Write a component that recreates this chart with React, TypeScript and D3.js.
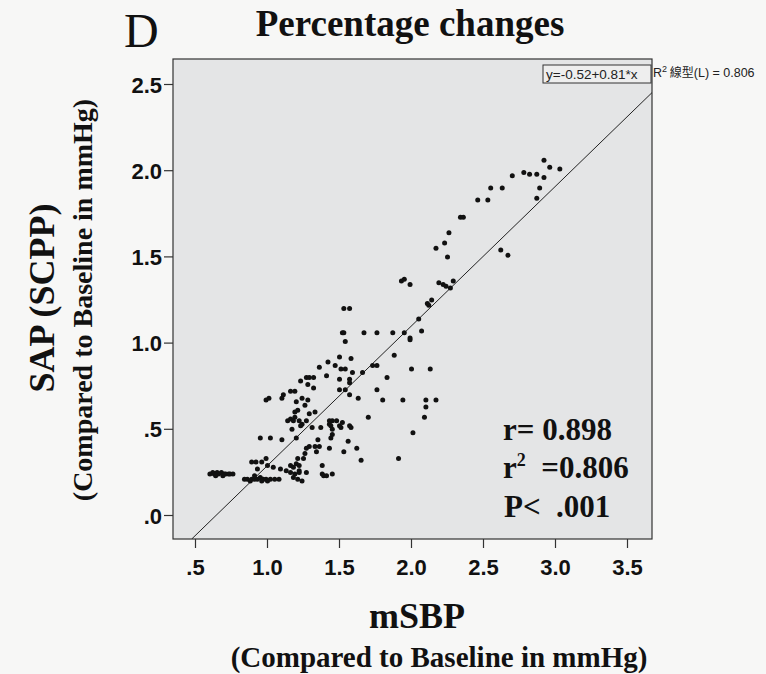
import * as d3 from 'd3';

// mSBP vs SAP (SCPP), percentage changes compared to baseline
const mSBP = [
  2.92, 2.96, 3.03, 2.78, 2.82, 2.87, 2.92, 2.7, 2.63, 2.55, 2.89, 2.87, 2.46, 2.53, 2.34, 2.36,
  2.26, 2.23, 2.17, 2.25, 2.62, 2.67, 1.93, 1.95, 1.99, 2.19, 2.22, 2.29, 2.27, 2.24, 2.14, 2.11,
  2.12, 2.05, 2.07, 1.95, 1.99, 1.99, 2.13, 2.0, 1.88, 1.87, 1.76, 1.67, 1.53, 1.57, 1.52, 1.53,
  1.54, 1.5, 1.58, 1.47, 1.51, 1.54, 1.59, 1.66, 1.73, 1.76, 1.42, 1.36, 1.41, 1.5, 1.57, 1.57,
  1.83, 1.27, 1.29, 1.32, 1.23, 1.28, 1.32, 1.5, 1.54, 1.76, 1.16, 1.19, 1.11, 1.1, 1.01, 0.99,
  1.24, 1.28, 1.57, 1.63, 1.8, 1.94, 2.1, 2.17, 2.1, 2.09, 1.7, 2.01, 1.91, 1.2, 1.21, 1.19,
  1.26, 1.29, 1.33, 1.16, 1.19, 1.14, 1.18, 1.22, 1.24, 1.27, 1.17, 1.23, 1.43, 1.45, 1.48, 1.43,
  1.44, 1.5, 1.52, 1.51, 1.57, 1.58, 1.37, 1.31, 1.45, 1.45, 1.2, 0.95, 1.02, 1.1, 1.35, 1.44,
  1.56, 1.29, 1.36, 1.33, 1.43, 1.62, 1.53, 1.34, 1.27, 1.26, 1.25, 1.21, 1.65, 1.38, 0.89, 0.92,
  0.96, 0.99, 1.0, 1.04, 0.93, 1.09, 1.13, 1.16, 1.18, 1.2, 1.22, 1.22, 1.16, 1.19, 1.22, 1.27,
  1.18, 1.21, 1.24, 1.38, 1.39, 1.45, 1.41, 0.84, 0.86, 0.89, 0.91, 0.93, 0.95, 0.97, 0.99, 1.02,
  1.05, 1.08, 0.91, 0.88, 0.96, 1.0, 0.6, 0.62, 0.63, 0.65, 0.66, 0.68, 0.7, 0.71, 0.73, 0.74,
  0.76, 0.64, 0.69,
];
const sapSCPP = [
  2.06, 2.02, 2.01, 1.99, 1.98, 1.98, 1.96, 1.97, 1.9, 1.9, 1.9, 1.84, 1.83, 1.83, 1.73, 1.73,
  1.64, 1.58, 1.55, 1.5, 1.54, 1.51, 1.36, 1.37, 1.34, 1.35, 1.34, 1.36, 1.32, 1.33, 1.25, 1.23,
  1.22, 1.14, 1.07, 1.06, 1.03, 1.02, 0.85, 0.85, 0.93, 1.06, 1.06, 1.06, 1.2, 1.2, 1.06, 1.06,
  1.01, 0.92, 0.91, 0.87, 0.85, 0.85, 0.83, 0.83, 0.87, 0.87, 0.89, 0.86, 0.81, 0.79, 0.79, 0.77,
  0.8, 0.8, 0.8, 0.8, 0.78, 0.76, 0.74, 0.73, 0.73, 0.73, 0.72, 0.72, 0.7, 0.68, 0.68, 0.67,
  0.68, 0.67, 0.7, 0.68, 0.67, 0.67, 0.67, 0.67, 0.63, 0.57, 0.57, 0.48, 0.33, 0.66, 0.61, 0.6,
  0.64, 0.59, 0.6, 0.56, 0.57, 0.55, 0.55, 0.55, 0.53, 0.55, 0.5, 0.52, 0.55, 0.55, 0.55, 0.53,
  0.52, 0.52, 0.54, 0.51, 0.52, 0.51, 0.51, 0.51, 0.5, 0.47, 0.45, 0.45, 0.45, 0.44, 0.44, 0.45,
  0.43, 0.4, 0.4, 0.4, 0.39, 0.39, 0.37, 0.37, 0.39, 0.36, 0.33, 0.33, 0.32, 0.29, 0.31, 0.31,
  0.31, 0.33, 0.29, 0.28, 0.27, 0.27, 0.26, 0.29, 0.28, 0.3, 0.29, 0.26, 0.25, 0.24, 0.25, 0.25,
  0.22, 0.21, 0.2, 0.24, 0.23, 0.24, 0.23, 0.21, 0.21, 0.21, 0.21, 0.21, 0.22, 0.21, 0.21, 0.21,
  0.21, 0.21, 0.23, 0.2, 0.2, 0.2, 0.24, 0.25, 0.24, 0.25, 0.24, 0.25, 0.24, 0.24, 0.24, 0.24,
  0.24, 0.23, 0.23,
];

const xTicks = [0.5, 1.0, 1.5, 2.0, 2.5, 3.0, 3.5];
const xTickLabels = ['.5', '1.0', '1.5', '2.0', '2.5', '3.0', '3.5'];
const yTicks = [0, 0.5, 1.0, 1.5, 2.0, 2.5];
const yTickLabels = ['.0', '.5', '1.0', '1.5', '2.0', '2.5'];

const fitIntercept = -0.52;
const fitSlope = 0.81;

const SERIF = '"Liberation Serif", "Times New Roman", serif';
const SANS = '"Liberation Sans", Arial, sans-serif';
const NBSP = '\u00a0';

export default function App() {
  const width = 766;
  const height = 674;
  const left = 173;
  const right = 652;
  const top = 59;
  const bottom = 539;

  const x = d3.scaleLinear().domain([0.5, 3.5]).range([195.5, 627.5]);
  const y = d3.scaleLinear().domain([0, 2.5]).range([515.5, 84.5]);

  const xMin = x.invert(left);
  const xMax = x.invert(right);
  const yMin = y.invert(bottom);
  const fitStart = (yMin - fitIntercept) / fitSlope;
  const fitLine = d3.line<number>()
    .x((d) => x(d))
    .y((d) => y(fitIntercept + fitSlope * d));

  return (
    <div style={{ position: 'absolute', left: 0, top: 0 }}>
      <svg width={width} height={height} style={{ display: 'block' }}>
        <rect width={width} height={height} fill="#f7f7f6" />

        <text x={124} y={47} fontFamily={SERIF} fontSize={48} fill="#111">D</text>
        <text x={410} y={36} textAnchor="middle" fontFamily={SERIF} fontSize={37} fontWeight="bold" fill="#111">
          Percentage changes
        </text>

        <rect x={left} y={top} width={right - left} height={bottom - top} fill="#e4e5e6" stroke="#333" strokeWidth={1.2} />

        <clipPath id="plot-clip">
          <rect x={left} y={top} width={right - left} height={bottom - top} />
        </clipPath>

        <g clipPath="url(#plot-clip)">
          <path d={fitLine([Math.max(fitStart, xMin), xMax]) ?? ''} fill="none" stroke="#222" strokeWidth={1} />
          {mSBP.map((v, i) => (
            <circle key={i} cx={x(v)} cy={y(sapSCPP[i])} r={2.5} fill="#111" />
          ))}
        </g>

        {yTicks.map((t, i) => (
          <g key={t}>
            <line x1={left - 9} x2={left} y1={y(t)} y2={y(t)} stroke="#333" strokeWidth={1.2} />
            <text x={left - 11} y={y(t) + 8} textAnchor="end" fontFamily={SANS} fontSize={22} fontWeight="bold" fill="#111">
              {yTickLabels[i]}
            </text>
          </g>
        ))}

        {xTicks.map((t, i) => (
          <g key={t}>
            <line x1={x(t)} x2={x(t)} y1={bottom} y2={bottom + 9} stroke="#333" strokeWidth={1.2} />
            <text x={x(t)} y={575} textAnchor="middle" fontFamily={SANS} fontSize={22} fontWeight="bold" fill="#111">
              {xTickLabels[i]}
            </text>
          </g>
        ))}

        <rect x={543} y={65} width={108} height={18} fill="#eeeeee" stroke="#333" strokeWidth={1} />
        <text x={546} y={79} fontFamily={SANS} fontSize={13.5} fill="#222">y=-0.52+0.81*x</text>
        <text x={653} y={77} fontFamily={SANS} fontSize={12.5} fill="#222">
          R<tspan dy={-5} fontSize={9}>2</tspan>
          <tspan dy={5} fontFamily='"Noto Sans CJK TC", sans-serif' fontSize={12}>{NBSP}線型</tspan>
          <tspan>(L) = 0.806</tspan>
        </text>

        <g fontFamily={SERIF} fontSize={31} fontWeight="bold" fill="#111">
          <text x={503} y={440}>r= 0.898</text>
          <text x={503} y={478}>
            r<tspan dy={-12} fontSize={18}>2</tspan>
            <tspan dy={12}>{`${NBSP}${NBSP}=0.806`}</tspan>
          </text>
          <text x={504} y={517}>{`P<${NBSP}${NBSP}.001`}</text>
        </g>

        <text x={417} y={628} textAnchor="middle" fontFamily={SERIF} fontSize={36} fontWeight="bold" fill="#111">
          mSBP
        </text>
        <text x={439} y={667} textAnchor="middle" fontFamily={SERIF} fontSize={29} fontWeight="bold" fill="#111">
          (Compared to Baseline in mmHg)
        </text>

        <text transform="translate(54,298) rotate(-90)" textAnchor="middle" fontFamily={SERIF} fontSize={36} fontWeight="bold" fill="#111">
          SAP (SCPP)
        </text>
        <text transform="translate(92,300) rotate(-90)" textAnchor="middle" fontFamily={SERIF} fontSize={28} fontWeight="bold" fill="#111">
          (Compared to Baseline in mmHg)
        </text>
      </svg>
    </div>
  );
}
